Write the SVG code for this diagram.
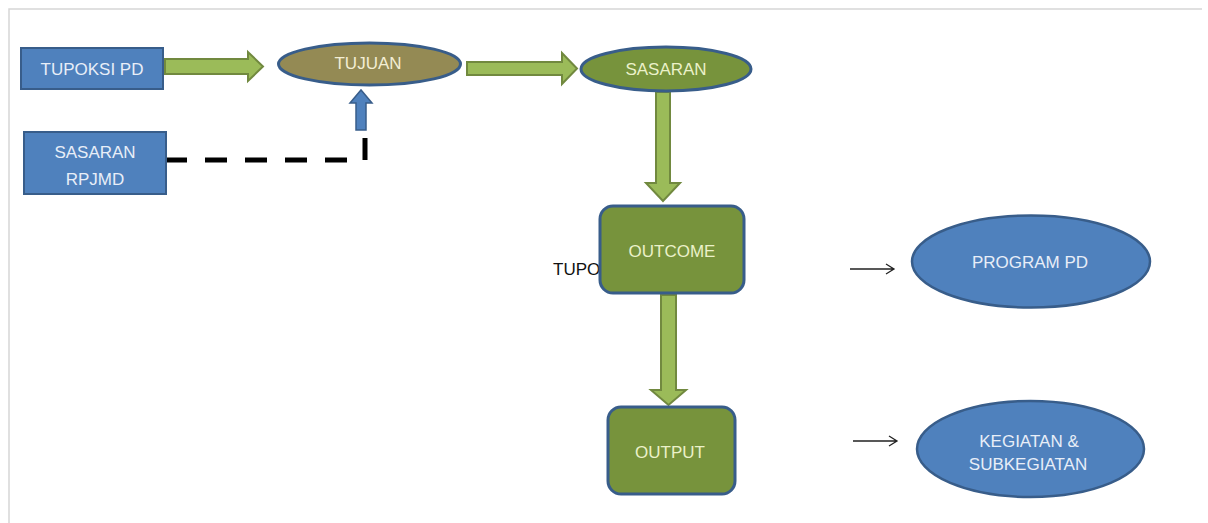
<svg xmlns="http://www.w3.org/2000/svg" width="1208" height="523" viewBox="0 0 1208 523">
<style>
.frame{stroke:#d6d6d6;stroke-width:1.5;fill:none}
.bbox{fill:#4f81bd;stroke:#385d8a;stroke-width:2}
.bell{fill:#4f81bd;stroke:#385d8a;stroke-width:2.5}
.gnode{fill:#77933c;stroke:#385d8a;stroke-width:3}
.tnode{fill:#948a54;stroke:#385d8a;stroke-width:3}
.garrow{fill:#9bbb59;stroke:#71893f;stroke-width:2;stroke-linejoin:miter}
.barrow{fill:#4f81bd;stroke:#385d8a;stroke-width:1.5}
.dash{fill:none;stroke:#000;stroke-width:5;stroke-dasharray:22 18}
.thin{fill:none;stroke:#222;stroke-width:1.3}
text{font-family:"Liberation Sans",Arial,sans-serif;font-size:17px;text-anchor:middle}
.tw{fill:#e8eef8}
.tg{fill:#ebf1c9}
.tt{fill:#f3eed4}
.tb{fill:#111;text-anchor:start}
</style>
<rect width="1208" height="523" fill="#ffffff"/>
<path class="frame" d="M9,523 V9 H1202"/>
<text class="tb" x="553" y="275">TUPO</text>
<g id="connectors">
  <polygon class="garrow" points="165,59 248,59 248,52 263,66.5 248,81 248,74 165,74"/>
  <polygon class="garrow" points="467,62 562,62 562,53 577,68.5 562,84 562,75 467,75"/>
  <polygon class="garrow" points="656,92 670,92 670,183 680,183 663,201 646,183 656,183"/>
  <polygon class="garrow" points="661,295 676,295 676,390 686,390 668.5,405 651,390 661,390"/>
  <polygon class="barrow" points="356,130 366,130 366,103 372,103 361,90 350,103 356,103"/>
  <path class="dash" d="M165,160 H365 V137"/>
  <path class="thin" d="M850,269 H894 M886,264 L894,269 L886,274"/>
  <path class="thin" d="M853,441 H897 M889,436 L897,441 L889,446"/>
</g>
<g id="tupoksi-pd">
  <rect class="bbox" x="21" y="48" width="142" height="41"/>
  <text class="tw" x="92" y="75">TUPOKSI PD</text>
</g>
<g id="sasaran-rpjmd">
  <rect class="bbox" x="24" y="132" width="142" height="62"/>
  <text class="tw" x="95" y="158">SASARAN</text>
  <text class="tw" x="95" y="185">RPJMD</text>
</g>
<g id="tujuan">
  <ellipse class="tnode" cx="369.5" cy="64" rx="91" ry="21"/>
  <text class="tt" x="368" y="69">TUJUAN</text>
</g>
<g id="sasaran">
  <ellipse class="gnode" cx="666" cy="69" rx="85" ry="22"/>
  <text class="tg" x="666" y="75">SASARAN</text>
</g>
<g id="outcome">
  <rect class="gnode" x="600" y="206" width="144" height="87" rx="13"/>
  <text class="tg" x="672" y="257">OUTCOME</text>
</g>
<g id="output">
  <rect class="gnode" x="608" y="407" width="127" height="87" rx="13"/>
  <text class="tg" x="670" y="458">OUTPUT</text>
</g>
<g id="program-pd">
  <ellipse class="bell" cx="1031" cy="261.5" rx="119" ry="46"/>
  <text class="tw" x="1030" y="268">PROGRAM PD</text>
</g>
<g id="kegiatan">
  <ellipse class="bell" cx="1030.5" cy="449" rx="113.5" ry="48"/>
  <text class="tw" x="1029" y="447">KEGIATAN &amp;</text>
  <text class="tw" x="1028" y="470">SUBKEGIATAN</text>
</g>
</svg>
